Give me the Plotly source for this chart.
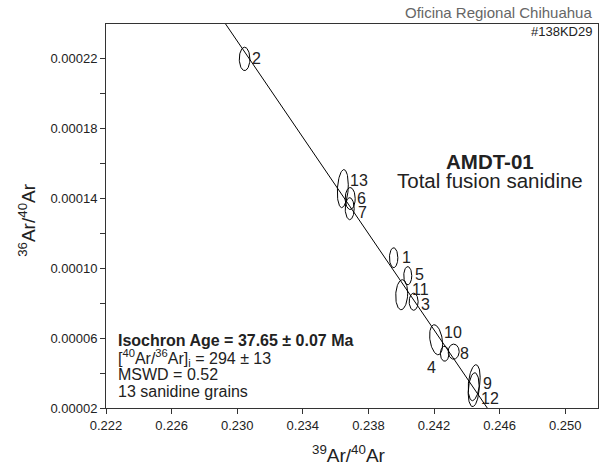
import numpy as np
import plotly.graph_objects as go

# --- Isochron data: 39Ar/40Ar vs 36Ar/40Ar for 13 sanidine grains ---
grain_ids = ["1", "2", "3", "4", "5", "6", "7", "8", "9", "10", "11", "12", "13"]
ar39_ar40 = [0.23954, 0.23045, 0.24076, 0.24265, 0.24040, 0.23689, 0.23686,
             0.24320, 0.24445, 0.24213, 0.24003, 0.24442, 0.23644]
ar36_ar40 = [0.0001061, 0.0002200, 0.0000809, 0.0000511, 0.0000958, 0.0001400, 0.0001342,
             0.0000523, 0.0000345, 0.0000591, 0.0000849, 0.0000305, 0.0001457]
# error-ellipse half widths (x), half heights (y) and error correlation
err_x = [0.000256, 0.000323, 0.000274, 0.000262, 0.000244, 0.000305, 0.000274,
         0.000335, 0.000365, 0.000396, 0.000365, 0.000335, 0.000335]
err_y = [0.0000057, 0.0000067, 0.0000049, 0.0000043, 0.0000052, 0.0000063, 0.0000063,
         0.0000043, 0.0000103, 0.0000086, 0.0000086, 0.0000097, 0.0000109]
err_rho = [0.0, 0.0, 0.0, 0.0, 0.0, 0.0, 0.0, 0.0, 0.3, -0.3, 0.1, 0.2, 0.2]

# label offsets (pixels) of the grain numbers from each ellipse centre
label_dx = [6, 5, 5, -7, 5, 5, 6, 4, 7, 6, 8, 5, 5]
label_dy = [0, 0, -3, -14, 1, 0, -4, -2, -1, 7, 5, -9, 8]

# isochron regression: trapped 40Ar/36Ar and 39Ar/40Ar intercept
trapped_ratio = 294
x_intercept = 0.2467

x_ticks = [0.222, 0.226, 0.230, 0.234, 0.238, 0.242, 0.246, 0.250]
y_ticks = [0.00002, 0.00004, 0.00006, 0.00008, 0.00010, 0.00012, 0.00014,
           0.00016, 0.00018, 0.00020, 0.00022]
y_labels = ["0.00002", "", "0.00006", "", "0.00010", "", "0.00014",
            "", "0.00018", "", "0.00022"]

FONT = "Liberation Sans, Arial, sans-serif"
INK = "#222222"

fig = go.Figure()

# isochron line
y0 = 1.0 / trapped_ratio
line_x = np.array([0.222, 0.252])
line_y = y0 * (1 - line_x / x_intercept)
fig.add_trace(go.Scatter(x=line_x, y=line_y, mode="lines",
                         line=dict(color="black", width=1), hoverinfo="skip",
                         showlegend=False))

# error ellipses
t = np.linspace(0, 2 * np.pi, 80)
ex, ey = [], []
for cx, cy, sx, sy, r in zip(ar39_ar40, ar36_ar40, err_x, err_y, err_rho):
    ex += list(cx + sx * np.cos(t)) + [None]
    ey += list(cy + sy * (r * np.cos(t) + np.sqrt(1 - r * r) * np.sin(t))) + [None]
fig.add_trace(go.Scatter(x=ex, y=ey, mode="lines",
                         line=dict(color="black", width=1), hoverinfo="skip",
                         showlegend=False))

annotations = []
for gid, cx, cy, dx, dy in zip(grain_ids, ar39_ar40, ar36_ar40, label_dx, label_dy):
    annotations.append(dict(x=cx, y=cy, xref="x", yref="y", text=gid,
                            showarrow=False, xanchor="left" if dx > 0 else "right",
                            yanchor="middle", xshift=dx, yshift=dy,
                            font=dict(family=FONT, size=16, color=INK)))

def paper_text(text, px, py, size, anchor="center", bold=False, color=INK, angle=0):
    if bold:
        text = "<b>" + text + "</b>"
    annotations.append(dict(x=(px - 106) / 492, y=(408.3 - py) / 384.3,
                            xref="paper", yref="paper", text=text, showarrow=False,
                            xanchor=anchor, yanchor="middle", textangle=angle,
                            font=dict(family=FONT, size=size, color=color)))

paper_text("Oficina Regional Chihuahua", 594, 12, 15, anchor="right", color="#666666")
paper_text("#138KD29", 594, 32, 13, anchor="right")
paper_text("AMDT-01", 490, 162, 20.5, bold=True)
paper_text("Total fusion sanidine", 490, 181, 20.5)
paper_text("Isochron Age = 37.65 ± 0.07 Ma", 116, 341, 16, anchor="left", bold=True)
paper_text("[<sup>40</sup>Ar/<sup>36</sup>Ar]<sub>i</sub> = 294 ± 13", 116, 358, 16, anchor="left")
paper_text("MSWD = 0.52", 116, 375, 16, anchor="left")
paper_text("13 sanidine grains", 116, 392, 16, anchor="left")
paper_text("<sup>39</sup>Ar/<sup>40</sup>Ar", 349, 454, 19)
paper_text("<sup>36</sup>Ar/<sup>40</sup>Ar", 27, 220, 19, angle=-90)

axis_common = dict(showline=True, linecolor="#333333", linewidth=1, mirror=True,
                   ticks="outside", ticklen=5, tickcolor="#333333", showgrid=False,
                   zeroline=False, tickfont=dict(family=FONT, size=13, color=INK))

fig.update_xaxes(range=[0.222, 0.252], tickmode="array", tickvals=x_ticks,
                 ticktext=["%.3f" % v for v in x_ticks], **axis_common)
fig.update_yaxes(range=[0.00002, 0.00024], tickmode="array", tickvals=y_ticks,
                 ticktext=y_labels, **axis_common)

fig.update_layout(width=602, height=473, margin=dict(l=106, r=4, t=24, b=65),
                  paper_bgcolor="white", plot_bgcolor="white",
                  annotations=annotations, showlegend=False)

fig.write_html("out.html")
